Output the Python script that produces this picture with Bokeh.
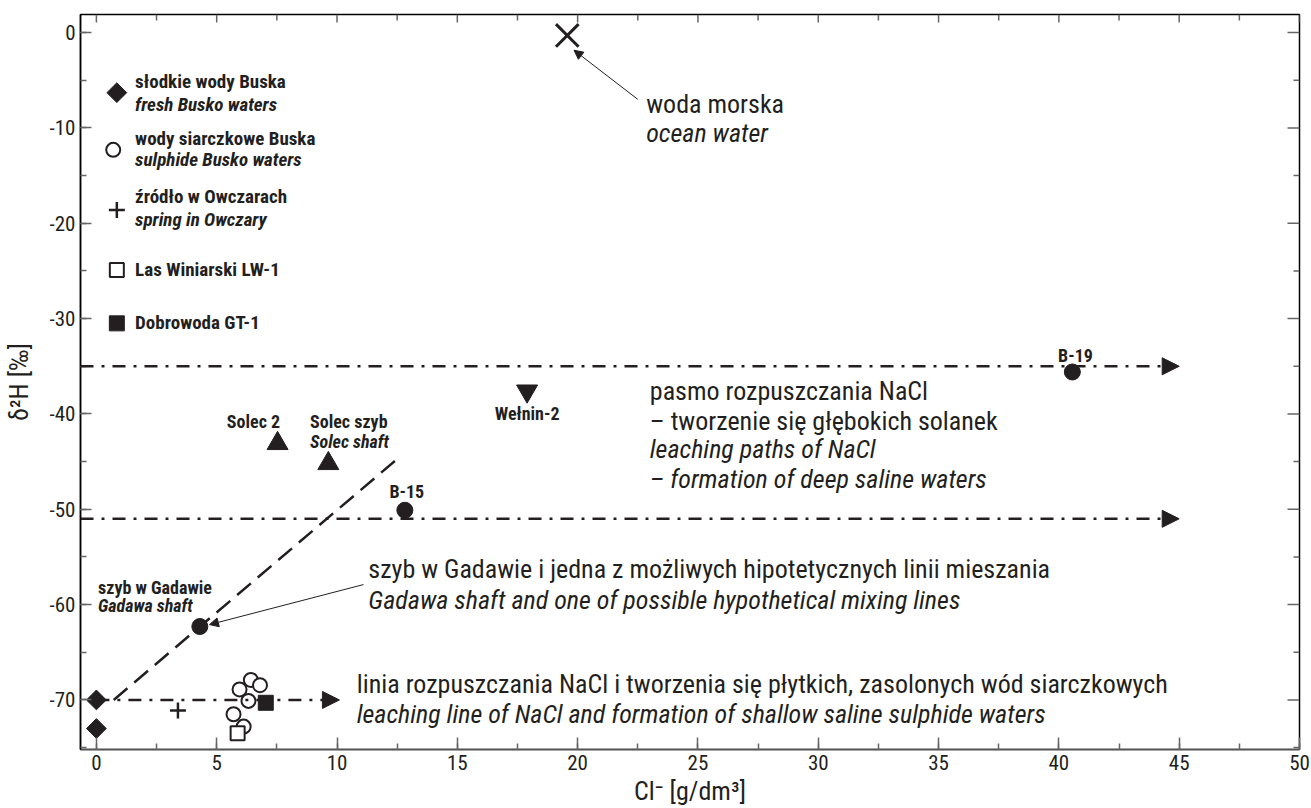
import math
from bokeh.plotting import figure
from bokeh.models import Range1d, SingleIntervalTicker, Label, Arrow, NormalHead, PrintfTickFormatter
from bokeh.embed import file_html
from bokeh.resources import INLINE

COND = "Roboto Condensed, Liberation Sans Narrow, DejaVu Sans Condensed, sans-serif"
INK = "#231f20"

# ---------------- data ----------------
fresh_x = [0.0, 0.0]
fresh_y = [-70.0, -73.0]
sulph_x = [5.95, 6.42, 6.8, 6.32, 5.7, 6.12]
sulph_y = [-68.9, -67.9, -68.45, -70.1, -71.5, -72.8]
spring_x = [3.39]
spring_y = [-71.1]
lw_x = [5.87]
lw_y = [-73.5]
gt_x = [7.04]
gt_y = [-70.3]
brine_x = [4.3, 12.82, 40.56]        # Gadawa, B-15, B-19
brine_y = [-62.3, -50.1, -35.6]
solec_x = [7.53, 9.64]               # Solec 2, Solec szyb
solec_y = [-43.1, -45.2]
welnin_x = [17.9]
welnin_y = [-37.6]
ocean_x = [19.57]
ocean_y = [-0.3]
deep_levels = [-35.0, -51.0]
shallow_level = -70.0
mix_x = [0.72, 12.48]
mix_y = [-70.0, -44.77]

x_ticks_major = [0, 5, 10, 15, 20, 25, 30, 35, 40, 45, 50]
x_ticks_minor = [2.5, 7.5, 12.5, 17.5, 22.5, 27.5, 32.5, 37.5, 42.5, 47.5]
y_ticks_major = [0, -10, -20, -30, -40, -50, -60, -70]
y_ticks_minor = [-5, -15, -25, -35, -45, -55, -65, -75]

legend_y = [-6.3, -12.3, -18.6, -24.9, -30.5]

X0, X1, Y0, Y1 = -0.66, 50.0, -75.2, 1.9

p = figure(width=1311, height=808, x_range=Range1d(X0, X1), y_range=Range1d(Y0, Y1),
           output_backend="svg", toolbar_location=None,
           min_border_left=78, min_border_right=12, min_border_top=14, min_border_bottom=56)
p.xgrid.visible = False
p.ygrid.visible = False
p.outline_line_color = "black"
p.outline_line_width = 1.5

TICK = "#666666"
for ax in p.xaxis:
    ax.ticker = SingleIntervalTicker(interval=5, num_minor_ticks=2)
    ax.formatter = PrintfTickFormatter(format="%d")
    ax.major_tick_in = 12; ax.major_tick_out = 0
    ax.minor_tick_in = 6; ax.minor_tick_out = 0
    ax.major_tick_line_color = TICK; ax.minor_tick_line_color = TICK
    ax.major_tick_line_width = 1.5; ax.minor_tick_line_width = 1.5
    ax.axis_line_color = "#555555"; ax.axis_line_width = 1.5
    ax.major_label_text_font = COND; ax.major_label_text_font_size = "21px"
    ax.major_label_text_color = INK
    ax.major_label_standoff = 5
    ax.axis_label = "Cl⁻ [g/dm³]"
    ax.axis_label_text_font = COND; ax.axis_label_text_font_size = "26px"
    ax.axis_label_text_font_style = "normal"; ax.axis_label_text_color = INK
    ax.axis_label_standoff = 3
for ax in p.yaxis:
    ax.ticker = SingleIntervalTicker(interval=10, num_minor_ticks=2)
    ax.formatter = PrintfTickFormatter(format="%d")
    ax.major_tick_in = 11; ax.major_tick_out = 0
    ax.minor_tick_in = 6; ax.minor_tick_out = 0
    ax.major_tick_line_color = TICK; ax.minor_tick_line_color = TICK
    ax.major_tick_line_width = 1.5; ax.minor_tick_line_width = 1.5
    ax.axis_line_color = "black"; ax.axis_line_width = 1.5
    ax.major_label_text_font = COND; ax.major_label_text_font_size = "21px"
    ax.major_label_text_color = INK
    ax.major_label_standoff = 5
    ax.axis_label = "δ²H [‰]"
    ax.axis_label_text_font = COND; ax.axis_label_text_font_size = "26px"
    ax.axis_label_text_font_style = "normal"; ax.axis_label_text_color = INK
    ax.axis_label_standoff = 13

# mirrored inward ticks on top and right
p.ray(x=x_ticks_major, y=[Y1] * len(x_ticks_major), length=8, length_units="screen",
      angle=-math.pi / 2, line_color=TICK, line_width=1.5)
p.ray(x=x_ticks_minor, y=[Y1] * len(x_ticks_minor), length=6, length_units="screen",
      angle=-math.pi / 2, line_color=TICK, line_width=1.5)
p.ray(x=[X1] * len(y_ticks_major), y=y_ticks_major, length=12, length_units="screen",
      angle=math.pi, line_color=TICK, line_width=1.5)
p.ray(x=[X1] * len(y_ticks_minor), y=y_ticks_minor, length=6, length_units="screen",
      angle=math.pi, line_color=TICK, line_width=1.5)

# ---------------- lines ----------------
for lvl in deep_levels:
    p.add_layout(Arrow(x_start=X0, y_start=lvl, x_end=45.0, y_end=lvl,
                       line_color=INK, line_width=2.5, line_dash="13 8 3 8",
                       end=NormalHead(size=17, fill_color=INK, line_color=INK, line_width=1)))
p.add_layout(Arrow(x_start=0.0, y_start=shallow_level, x_end=10.1, y_end=shallow_level,
                   line_color=INK, line_width=2.5, line_dash="13 8 3 8",
                   end=NormalHead(size=17, fill_color=INK, line_color=INK, line_width=1)))
p.line(mix_x, mix_y, line_color=INK, line_width=2.5, line_dash="18 9")

# pointer arrows
p.add_layout(Arrow(x_start=22.5, y_start=-7.0, x_end=19.85, y_end=-1.85, line_color=INK, line_width=1,
                   end=NormalHead(size=9, fill_color=INK, line_color=INK, line_width=1)))
p.add_layout(Arrow(x_start=11.1, y_start=-57.9, x_end=4.7, y_end=-62.1, line_color=INK, line_width=1,
                   end=NormalHead(size=9, fill_color=INK, line_color=INK, line_width=1)))

# ---------------- markers ----------------
p.scatter(fresh_x, fresh_y, marker="square", size=14, angle=0.785398, fill_color=INK, line_color=INK)
p.scatter(sulph_x, sulph_y, marker="circle", size=14, fill_color="white", line_color=INK, line_width=2)
p.scatter(spring_x, spring_y, marker="cross", size=16, line_color=INK, line_width=2.5)
p.scatter(lw_x, lw_y, marker="square", size=14, fill_color="white", line_color=INK, line_width=2)
p.scatter(gt_x, gt_y, marker="square", size=15, fill_color=INK, line_color=INK)
p.scatter(brine_x, brine_y, marker="circle", size=16, fill_color=INK, line_color=INK)
p.scatter(solec_x, solec_y, marker="triangle", size=21, fill_color=INK, line_color=INK)
p.scatter(welnin_x, welnin_y, marker="inverted_triangle", size=21, fill_color=INK, line_color=INK)
p.scatter(ocean_x, ocean_y, marker="x", size=32, line_color=INK, line_width=3)

# legend markers
LX = 0.85
p.scatter([LX], [legend_y[0]], marker="square", size=14, angle=0.785398, fill_color=INK, line_color=INK)
p.scatter([LX - 0.15], [legend_y[1]], marker="circle", size=14, fill_color="white", line_color=INK, line_width=2)
p.scatter([LX], [legend_y[2]], marker="cross", size=16, line_color=INK, line_width=2.5)
p.scatter([LX], [legend_y[3]], marker="square", size=14, fill_color="white", line_color=INK, line_width=2)
p.scatter([LX], [legend_y[4]], marker="square", size=15, fill_color=INK, line_color=INK)

def lab(x, y, text, size, style="normal", align="left"):
    p.add_layout(Label(x=x, y=y, text=text, text_font=COND, text_font_size=f"{size}px",
                       text_font_style=style, text_align=align, text_baseline="middle",
                       text_color=INK))

TX = 1.61
lab(TX, -5.1, "słodkie wody Buska", 19, "bold")
lab(TX, -7.5, "fresh Busko waters", 19, "bold italic")
lab(TX, -11.1, "wody siarczkowe Buska", 19, "bold")
lab(TX, -13.3, "sulphide Busko waters", 19, "bold italic")
lab(TX, -17.2, "źródło w Owczarach", 19, "bold")
lab(TX, -19.6, "spring in Owczary", 19, "bold italic")
lab(TX, -24.8, "Las Winiarski LW-1", 19, "bold")
lab(TX, -30.4, "Dobrowoda GT-1", 19, "bold")

# point labels
lab(40.69, -33.9, "B-19", 18, "bold", "center")
lab(12.9, -48.1, "B-15", 18, "bold", "center")
lab(17.9, -40.0, "Wełnin-2", 18, "bold", "center")
lab(6.53, -40.8, "Solec 2", 18, "bold", "center")
lab(8.88, -40.8, "Solec szyb", 18, "bold")
lab(8.88, -42.9, "Solec shaft", 18, "bold italic")
lab(0.07, -58.2, "szyb w Gadawie", 18, "bold")
lab(0.07, -60.1, "Gadawa shaft", 18, "bold italic")

# annotations
lab(22.85, -7.5, "woda morska", 26)
lab(22.85, -10.5, "ocean water", 26, "italic")
lab(23.0, -37.6, "pasmo rozpuszczania NaCl", 26)
lab(23.0, -40.7, "– tworzenie się głębokich solanek", 26)
lab(23.0, -43.7, "leaching paths of NaCl", 26, "italic")
lab(23.0, -46.8, "– formation of deep saline waters", 26, "italic")
lab(11.3, -56.3, "szyb w Gadawie i jedna z możliwych hipotetycznych linii mieszania", 26)
lab(11.3, -59.5, "Gadawa shaft and one of possible hypothetical mixing lines", 26, "italic")
lab(10.82, -68.3, "linia rozpuszczania NaCl i tworzenia się płytkich, zasolonych wód siarczkowych", 26)
lab(10.82, -71.5, "leaching line of NaCl and formation of shallow saline sulphide waters", 26, "italic")

open("out.html", "w").write(file_html(p, INLINE))
